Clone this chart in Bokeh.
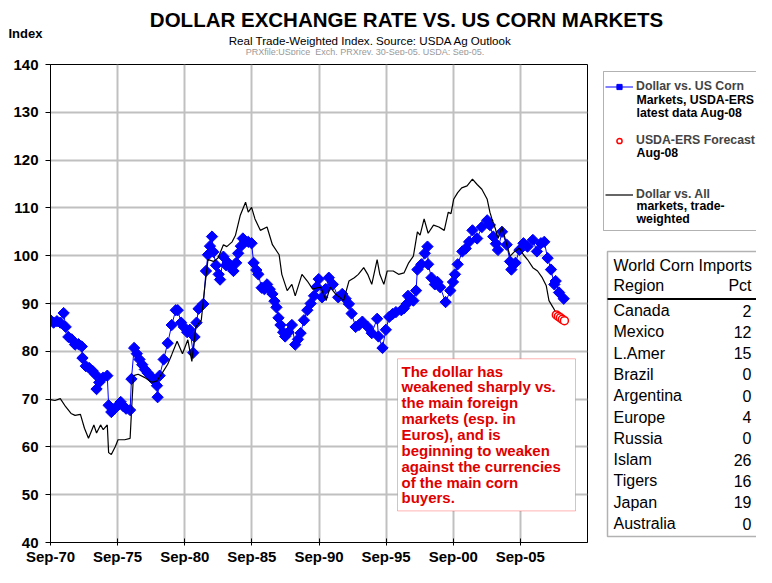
from bokeh.plotting import figure
from bokeh.models import FixedTicker, Label, BoxAnnotation, Legend, LegendItem
from bokeh.layouts import column, row
from bokeh.embed import file_html
from bokeh.resources import INLINE

# ---------------- data ----------------
corn_year = [1970.67, 1970.9, 1971.15, 1971.4, 1971.65, 1971.8, 1972.0, 1972.25, 1972.5, 1972.75,
             1973.0, 1973.05, 1973.3, 1973.55, 1973.8, 1974.0, 1974.1, 1974.3, 1974.6, 1974.9,
             1975.0, 1975.2, 1975.45, 1975.7, 1975.9, 1976.1, 1976.3, 1976.6, 1976.7, 1976.9,
             1977.1, 1977.3, 1977.5, 1977.7, 1977.9, 1978.1, 1978.35, 1978.6, 1978.65, 1978.8,
             1979.1, 1979.4, 1979.7, 1980.0, 1980.15, 1980.4, 1980.6, 1980.85, 1981.05, 1981.3,
             1981.4, 1981.55, 1981.7, 1982.05, 1982.25, 1982.4, 1982.55, 1982.7, 1982.8, 1983.0,
             1983.2, 1983.3, 1983.55, 1983.75, 1983.9, 1984.1, 1984.3, 1984.5, 1984.65, 1984.85,
             1985.0, 1985.2, 1985.4, 1985.65, 1985.8, 1986.0, 1986.15, 1986.4, 1986.6, 1986.8,
             1987.0, 1987.2, 1987.35, 1987.5, 1987.65, 1987.8, 1988.0, 1988.15, 1988.4, 1988.65,
             1988.9, 1989.1, 1989.3, 1989.55, 1989.8, 1990.05, 1990.3, 1990.5, 1990.65, 1990.9,
             1991.15, 1991.4, 1991.7, 1992.1, 1992.4, 1992.65, 1992.9, 1993.1, 1993.4, 1993.65,
             1993.9, 1994.3, 1994.6, 1995.0, 1995.1, 1995.4, 1995.65, 1995.9, 1996.15, 1996.4,
             1996.8, 1997.0, 1997.2, 1997.3, 1997.5, 1997.7, 1997.9, 1998.0, 1998.3, 1998.55,
             1998.75, 1998.8, 1999.05, 1999.3, 1999.5, 1999.7, 2000.1, 2000.45, 2000.65, 2000.8,
             2001.0, 2001.35, 2001.6, 2001.85, 2002.1, 2002.45, 2002.8, 2003.2, 2003.4, 2003.65,
             2003.85, 2004.0, 2004.3, 2004.65, 2004.9, 2005.0, 2005.3, 2005.6, 2005.9, 2006.2,
             2006.6, 2006.9, 2007.2, 2007.45, 2007.7, 2007.95, 2008.2, 2008.3, 2008.55, 2008.9]
corn_index = [86.5, 86.0, 86.3, 86.0, 88.0, 85.1, 83.0, 82.5, 81.4, 81.5,
              81.0, 78.6, 76.9, 76.5, 75.9, 75.2, 72.1, 73.5, 74.5, 74.9,
              68.7, 67.3, 68.0, 68.7, 69.4, 68.5, 68.0, 67.7, 74.2, 80.7,
              79.5, 78.3, 77.2, 76.2, 75.5, 74.9, 74.0, 72.8, 70.4, 74.9,
              78.3, 81.7, 85.5, 88.6, 88.6, 86.0, 85.1, 84.0, 84.5, 79.7,
              83.0, 86.0, 88.9, 89.9, 96.8, 100.2, 102.0, 104.0, 100.8, 98.0,
              96.1, 95.0, 99.8, 98.0, 98.5, 97.5, 96.8, 98.5, 100.5, 102.0,
              103.6, 103.0, 102.9, 102.6, 98.5, 97.0, 96.1, 93.3, 93.0, 94.0,
              93.0, 92.0, 90.5, 89.2, 87.0, 85.5, 84.0, 83.1, 84.0, 85.5,
              81.4, 82.5, 83.8, 86.5, 88.6, 90.0, 91.6, 93.5, 95.1, 91.3,
              93.0, 95.4, 94.0, 91.3, 92.0, 91.0, 89.9, 87.9, 85.1, 85.5,
              86.2, 85.1, 83.8, 86.8, 83.1, 80.7, 84.5, 87.2, 87.8, 88.2,
              88.6, 89.0, 89.9, 91.6, 91.0, 90.6, 92.7, 97.1, 98.2, 100.5,
              101.9, 98.2, 95.4, 94.0, 94.5, 93.4, 90.3, 92.7, 94.5, 96.1,
              98.2, 100.9, 101.5, 102.9, 105.3, 103.6, 106.0, 107.4, 106.4, 104.0,
              102.5, 101.2, 105.0, 102.3, 98.8, 97.1, 98.5, 101.2, 102.6, 101.9,
              103.3, 100.9, 102.6, 102.9, 99.5, 97.1, 94.0, 94.7, 92.3, 91.0]

all_year = [1970.67, 1971.0, 1971.4, 1971.8, 1972.2, 1972.5, 1972.9, 1973.2, 1973.5, 1973.9,
            1974.1, 1974.4, 1974.6, 1974.9, 1975.0, 1975.2, 1975.5, 1975.7, 1976.2, 1976.6,
            1976.7, 1976.85, 1977.2, 1977.7, 1978.2, 1978.6, 1979.0, 1979.4, 1979.7, 1980.1,
            1980.5, 1980.9, 1981.2, 1981.5, 1981.9, 1982.2, 1982.4, 1982.8, 1983.15, 1983.55,
            1983.8, 1984.2, 1984.45, 1984.8, 1985.2, 1985.4, 1985.65, 1985.9, 1986.3, 1986.8,
            1987.2, 1987.7, 1987.9, 1988.3, 1988.65, 1988.9, 1989.4, 1989.8, 1990.2, 1990.55,
            1990.8, 1991.2, 1991.5, 1991.9, 1992.5, 1992.9, 1993.3, 1993.6, 1994.0, 1994.3,
            1994.6, 1995.0, 1995.2, 1995.5, 1995.75, 1996.2, 1996.6, 1997.0, 1997.35, 1997.7,
            1998.0, 1998.2, 1998.5, 1998.8, 1999.2, 1999.6, 2000.0, 2000.3, 2000.5, 2000.7,
            2001.0, 2001.3, 2001.7, 2002.1, 2002.45, 2002.8, 2003.2, 2003.4, 2003.55, 2003.8,
            2004.0, 2004.3, 2004.6, 2004.9, 2005.25, 2005.6, 2005.9, 2006.2, 2006.6, 2006.95,
            2007.3, 2007.6, 2007.8, 2008.1, 2008.3]
all_index = [69.9, 69.7, 70.1, 68.4, 67.0, 66.6, 66.8, 63.9, 61.8, 64.6,
             62.9, 64.6, 63.6, 64.6, 58.8, 58.4, 60.1, 61.5, 61.5, 61.8,
             67.3, 74.9, 75.2, 74.5, 73.5, 73.8, 75.5, 77.3, 79.3, 82.1,
             79.5, 82.4, 77.9, 85.1, 86.5, 94.4, 99.2, 98.8, 99.5, 102.3,
             101.9, 102.9, 104.3, 108.4, 111.2, 109.1, 110.1, 107.7, 105.3, 106.0,
             102.3, 100.2, 96.1, 92.7, 94.0, 91.6, 96.1, 94.7, 93.0, 93.3,
             93.4, 90.6, 93.4, 92.0, 90.6, 94.7, 95.4, 96.1, 97.5, 96.1,
             94.0, 99.2, 96.1, 94.0, 96.8, 96.8, 96.1, 96.4, 98.5, 99.9,
             105.0, 104.3, 107.7, 104.7, 106.4, 106.0, 105.3, 109.1, 108.8, 111.8,
             113.2, 114.2, 114.6, 116.0, 114.9, 113.9, 111.8, 109.1, 107.7, 105.7,
             103.6, 106.0, 102.9, 99.9, 100.9, 101.6, 100.2, 99.2, 97.5, 96.8,
             95.4, 93.7, 90.6, 89.2, 88.2]

fcst_year = [2008.35, 2008.5, 2008.65, 2008.8, 2008.95]
fcst_index = [87.6, 87.3, 87.0, 86.7, 86.4]

tick_years = [1970.67, 1975.67, 1980.67, 1985.67, 1990.67, 1995.67, 2000.67, 2005.67]
tick_labels = ["Sep-70", "Sep-75", "Sep-80", "Sep-85", "Sep-90", "Sep-95", "Sep-00", "Sep-05"]
y_ticks = [40, 50, 60, 70, 80, 90, 100, 110, 120, 130, 140]

regions = ["Canada", "Mexico", "L.Amer", "Brazil", "Argentina", "Europe", "Russia",
           "Islam", "Tigers", "Japan", "Australia"]
pcts = ["2", "12", "15", "0", "0", "4", "0", "26", "16", "19", "0"]

legend_texts = [["Dollar vs. US Corn", "Markets, USDA-ERS", "latest data Aug-08"],
                ["USDA-ERS Forecast", "Aug-08"],
                ["Dollar vs. All", "markets, trade-", "weighted"]]

note_lines = ["The dollar has", "weakened sharply vs.", "the main foreign",
              "markets (esp. in", "Euros), and is", "beginning to weaken",
              "against the currencies", "of the main corn", "buyers."]

FONT = "Liberation Sans"

W, H = 756, 567
TITLE_H = 55
MAIN_W = 590
BODY_H = H - TITLE_H
FRAME_TOP, FRAME_BOTTOM = 64, 544          # page y of the plot frame
FRAME_LEFT, FRAME_RIGHT = 50, 587          # page x of the plot frame


def put(fig, text, x, y, size, style="normal", color="black", align="left",
        baseline="middle", font=FONT):
    fig.add_layout(Label(x=x, y=y, x_units="screen", y_units="screen", text=text,
                         text_font=font, text_font_size=size, text_font_style=style,
                         text_color=color, text_align=align, text_baseline=baseline))


def sbox(fig, left, right, top, bottom, **kw):
    fig.add_layout(BoxAnnotation(left=left, right=right, top=top, bottom=bottom,
                                 left_units="screen", right_units="screen",
                                 top_units="screen", bottom_units="screen", **kw))


# ---------------- title strip ----------------
t = figure(width=W, height=TITLE_H, output_backend="svg", toolbar_location=None,
           title=None, x_axis_type=None, y_axis_type=None,
           x_range=(0, W), y_range=(0, TITLE_H), min_border=0)
t.outline_line_color = None
ty = lambda py: TITLE_H - py
put(t, "DOLLAR EXCHANGE RATE VS. US CORN MARKETS", 406, ty(19), "20.5px", "bold",
    align="center")
put(t, "Real Trade-Weighted Index. Source: USDA Ag Outlook", 370, ty(40), "11.6px",
    align="center")
put(t, "PRXfile:USprice_Exch.  PRXrev. 30-Sep-05.  USDA: Sep-05.", 367, ty(51), "9px",
    color="#999999", align="center")
put(t, "Index", 8, ty(33), "13px", "bold")

# ---------------- main chart ----------------
p = figure(width=MAIN_W, height=BODY_H, output_backend="svg", toolbar_location=None,
           title=None, x_range=(1970.67, 2010.67), y_range=(40, 140),
           min_border_left=FRAME_LEFT, min_border_right=MAIN_W - FRAME_RIGHT,
           min_border_top=FRAME_TOP - TITLE_H, min_border_bottom=H - FRAME_BOTTOM)
p.background_fill_color = "white"
p.border_fill_color = "white"
p.outline_line_color = "black"
p.outline_line_width = 1

p.xaxis.ticker = FixedTicker(ticks=tick_years)
p.xaxis.major_label_overrides = dict(zip(tick_years, tick_labels))
p.yaxis.ticker = FixedTicker(ticks=y_ticks)
for ax in (p.xaxis, p.yaxis):
    ax.axis_line_color = "black"
    ax.axis_line_width = 1
    ax.major_tick_line_color = "black"
    ax.minor_tick_line_color = None
    ax.major_label_text_font = FONT
    ax.major_label_text_font_style = "bold"
    ax.major_label_text_font_size = "15px"
    ax.major_label_text_color = "black"
p.xaxis.major_tick_in = 4
p.xaxis.major_tick_out = 3
p.xaxis.major_label_standoff = 2
p.yaxis.major_tick_in = 0
p.yaxis.major_tick_out = 5
p.yaxis.major_label_standoff = 7
p.grid.grid_line_color = "#c0c0c0"
p.grid.grid_line_width = 2

blue_line = p.line(corn_year, corn_index, line_color="#0000ff", line_width=1)
blue_pts = p.scatter(corn_year, corn_index, marker="square", angle=0.785, size=8,
                     fill_color="#0000ff", line_color="#0000ff")
black_line = p.line(all_year, all_index, line_color="black", line_width=1.2)
red_pts = p.scatter(fcst_year, fcst_index, marker="circle", size=8, fill_color="white",
                    line_color="#ff0000", line_width=1.5)

# page y inside the frame, squeezed to this frame height
scale = (FRAME_BOTTOM - FRAME_TOP) / (552 - 66)
my = lambda ref_y: FRAME_BOTTOM - (FRAME_TOP + (ref_y - 66) * scale)
mx = lambda px: px - FRAME_LEFT

sbox(p, mx(397), mx(575), my(366), my(520), fill_color="white", fill_alpha=1,
     line_color="#ff0000", line_width=1)
for i, line in enumerate(note_lines):
    put(p, line, mx(401), my(378.5 + i * 16.05), "15px", "bold", color="#e00000")

# ---------------- side panel: legend and table ----------------
s = figure(width=W - MAIN_W, height=BODY_H, output_backend="svg", toolbar_location=None,
           title=None, x_axis_type=None, y_axis_type=None,
           x_range=(0, W - MAIN_W), y_range=(0, FRAME_BOTTOM - FRAME_TOP),
           min_border_left=0, min_border_right=0,
           min_border_top=FRAME_TOP - TITLE_H, min_border_bottom=H - FRAME_BOTTOM)
s.outline_line_color = None
sx = lambda px: px - MAIN_W
sy = lambda py: FRAME_BOTTOM - py

# legend frame
sbox(s, sx(603), sx(780), sy(73), sy(232), fill_color="white", fill_alpha=1,
     line_color="black", line_width=1)

# legend proxies: the same series, drawn off this panel's view
d_line = s.line(corn_year, corn_index, line_color="#0000ff", line_width=1)
d_pts = s.scatter(corn_year, corn_index, marker="square", angle=0.785, size=7.5,
                  fill_color="#0000ff", line_color="#0000ff")
d_red = s.scatter(fcst_year, fcst_index, marker="circle", size=8, fill_color="white",
                  line_color="#ff0000", line_width=1.5)
d_black = s.line(all_year, all_index, line_color="black", line_width=1.2)

legend = Legend(items=[
    LegendItem(label=legend_texts[0][0], renderers=[d_line, d_pts]),
    LegendItem(label=legend_texts[1][0], renderers=[d_red]),
    LegendItem(label=legend_texts[2][0], renderers=[d_black]),
], location="top_left")
legend.margin = 15
legend.padding = 6
legend.spacing = 40
legend.glyph_width = 28
legend.glyph_height = 13
legend.label_height = 13
legend.label_standoff = 3
legend.label_text_font = FONT
legend.label_text_font_size = "12.3px"
legend.label_text_font_style = "bold"
legend.border_line_color = None
legend.background_fill_alpha = 0
s.add_layout(legend)

LEG_TEXT_X = 636
for first_y, lines in zip([85.5, 138.5, 191.5], legend_texts):
    for j, line in enumerate(lines[1:], start=1):
        put(s, line, sx(LEG_TEXT_X), sy(first_y + 2.5 + j * 13), "12.3px", "bold")

# world corn imports table
sbox(s, sx(607), sx(780), sy(253), sy(538), fill_color="white", fill_alpha=1,
     line_color="black", line_width=1.5)
sbox(s, sx(607), sx(780), sy(299.5), sy(301.5), fill_color="black", fill_alpha=1,
     line_color=None)
put(s, "World Corn Imports", sx(613), sy(267), "16px")
put(s, "Region", sx(613), sy(287), "16px")
put(s, "Pct", sx(751), sy(287), "16px", align="right")
for i, (r, v) in enumerate(zip(regions, pcts)):
    yy = 312 + i * 21.3
    put(s, r, sx(613), sy(yy), "16px")
    put(s, v, sx(751), sy(yy), "16px", align="right")

layout = column(t, row(p, s, spacing=0), spacing=0)
open("out.html", "w").write(file_html(layout, INLINE))
